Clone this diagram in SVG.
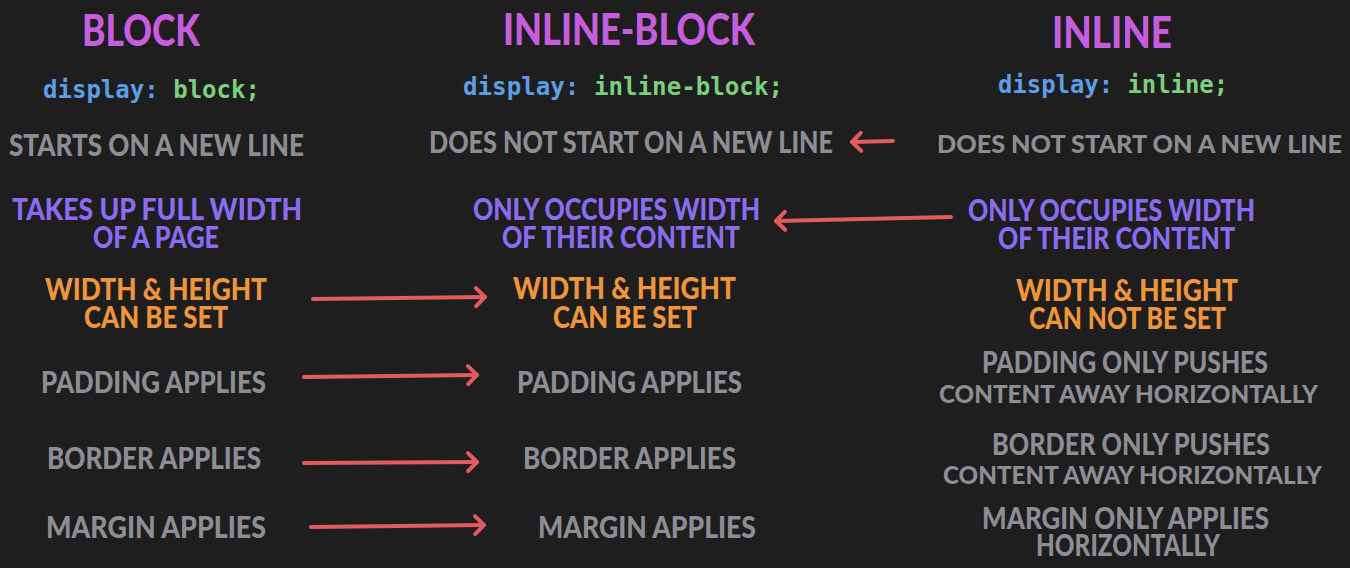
<svg xmlns="http://www.w3.org/2000/svg" width="1350" height="568" viewBox="0 0 1350 568">
<defs>
<style>
.t{font-family:Lato,"Open Sans","Liberation Sans",sans-serif;font-weight:900;font-size:30px;text-anchor:middle}
.s{font-size:25.5px}
.title{font-size:44px;fill:#c65ddf}
.g{fill:#8d8d93}
.p{fill:#8b6cf1}
.o{fill:#ef963d}
.code{font-family:"DejaVu Sans Mono","Liberation Mono",monospace;font-weight:bold;font-size:24px}
.kw{fill:#5d9fe6}
.val{fill:#7ccf7d}
.arr{stroke:#e25b5d;stroke-width:4;fill:none;stroke-linecap:round;marker-end:url(#ah)}
</style>
<marker id="ah" markerUnits="userSpaceOnUse" markerWidth="30" markerHeight="30" refX="15" refY="15" orient="auto" viewBox="0 0 30 30">
<path d="M6,6 L15,15 L6,24" fill="none" stroke="#e25b5d" stroke-width="4" stroke-linecap="round" stroke-linejoin="round"/>
</marker>
</defs>
<rect width="1350" height="568" fill="#1e1e1f"/>

<g id="col-block">
<g id="block-title"><text class="t title" x="141" y="46" textLength="118" lengthAdjust="spacingAndGlyphs">BLOCK</text></g>
<g id="block-code"><text class="code" x="43" y="98" textLength="217" lengthAdjust="spacingAndGlyphs"><tspan class="kw">display:</tspan><tspan class="val"> block;</tspan></text></g>
<g id="block-newline"><text class="t g" x="156.5" y="156" textLength="295" lengthAdjust="spacingAndGlyphs">STARTS ON A NEW LINE</text></g>
<g id="block-width"><text class="t p"><tspan x="157" y="220" textLength="290" lengthAdjust="spacingAndGlyphs">TAKES UP FULL WIDTH</tspan><tspan x="156" y="248" textLength="126" lengthAdjust="spacingAndGlyphs">OF A PAGE</tspan></text></g>
<g id="block-size"><text class="t o"><tspan x="156" y="300" textLength="222" lengthAdjust="spacingAndGlyphs">WIDTH &amp; HEIGHT</tspan><tspan x="156" y="328" textLength="144" lengthAdjust="spacingAndGlyphs">CAN BE SET</tspan></text></g>
<g id="block-padding"><text class="t g" x="153.5" y="393" textLength="225" lengthAdjust="spacingAndGlyphs">PADDING APPLIES</text></g>
<g id="block-border"><text class="t g" x="154" y="469" textLength="214" lengthAdjust="spacingAndGlyphs">BORDER APPLIES</text></g>
<g id="block-margin"><text class="t g" x="156" y="538" textLength="220" lengthAdjust="spacingAndGlyphs">MARGIN APPLIES</text></g>
</g>

<g id="col-inline-block">
<g id="ib-title"><text class="t title" x="629" y="45" textLength="252" lengthAdjust="spacingAndGlyphs">INLINE-BLOCK</text></g>
<g id="ib-code"><text class="code" x="463" y="95" textLength="320" lengthAdjust="spacingAndGlyphs"><tspan class="kw">display:</tspan><tspan class="val"> inline-block;</tspan></text></g>
<g id="ib-newline"><text class="t g" x="631" y="153" textLength="404" lengthAdjust="spacingAndGlyphs">DOES NOT START ON A NEW LINE</text></g>
<g id="ib-width"><text class="t p"><tspan x="616.5" y="220" textLength="287" lengthAdjust="spacingAndGlyphs">ONLY OCCUPIES WIDTH</tspan><tspan x="621" y="248" textLength="238" lengthAdjust="spacingAndGlyphs">OF THEIR CONTENT</tspan></text></g>
<g id="ib-size"><text class="t o"><tspan x="624.5" y="299" textLength="223" lengthAdjust="spacingAndGlyphs">WIDTH &amp; HEIGHT</tspan><tspan x="625" y="328" textLength="144" lengthAdjust="spacingAndGlyphs">CAN BE SET</tspan></text></g>
<g id="ib-padding"><text class="t g" x="629.5" y="393" textLength="225" lengthAdjust="spacingAndGlyphs">PADDING APPLIES</text></g>
<g id="ib-border"><text class="t g" x="629.5" y="469" textLength="213" lengthAdjust="spacingAndGlyphs">BORDER APPLIES</text></g>
<g id="ib-margin"><text class="t g" x="647" y="538" textLength="218" lengthAdjust="spacingAndGlyphs">MARGIN APPLIES</text></g>
</g>

<g id="col-inline">
<g id="in-title"><text class="t title" x="1112" y="48" textLength="120" lengthAdjust="spacingAndGlyphs">INLINE</text></g>
<g id="in-code"><text class="code" x="998" y="93" textLength="230" lengthAdjust="spacingAndGlyphs"><tspan class="kw">display:</tspan><tspan class="val"> inline;</tspan></text></g>
<g id="in-newline"><text class="t g s" x="1139.5" y="153" textLength="405" lengthAdjust="spacingAndGlyphs">DOES NOT START ON A NEW LINE</text></g>
<g id="in-width"><text class="t p"><tspan x="1111.5" y="221" textLength="287" lengthAdjust="spacingAndGlyphs">ONLY OCCUPIES WIDTH</tspan><tspan x="1116.5" y="249" textLength="237" lengthAdjust="spacingAndGlyphs">OF THEIR CONTENT</tspan></text></g>
<g id="in-size"><text class="t o"><tspan x="1127" y="301" textLength="222" lengthAdjust="spacingAndGlyphs">WIDTH &amp; HEIGHT</tspan><tspan x="1127.5" y="329" textLength="197" lengthAdjust="spacingAndGlyphs">CAN NOT BE SET</tspan></text></g>
<g id="in-padding"><text class="t g"><tspan x="1125" y="373" textLength="286" lengthAdjust="spacingAndGlyphs">PADDING ONLY PUSHES</tspan><tspan class="s" x="1128.5" y="403" textLength="379" lengthAdjust="spacingAndGlyphs">CONTENT AWAY HORIZONTALLY</tspan></text></g>
<g id="in-border"><text class="t g"><tspan x="1131" y="455" textLength="278" lengthAdjust="spacingAndGlyphs">BORDER ONLY PUSHES</tspan><tspan class="s" x="1132.5" y="484" textLength="379" lengthAdjust="spacingAndGlyphs">CONTENT AWAY HORIZONTALLY</tspan></text></g>
<g id="in-margin"><text class="t g"><tspan x="1125.5" y="529" textLength="287" lengthAdjust="spacingAndGlyphs">MARGIN ONLY APPLIES</tspan><tspan x="1128" y="556" textLength="184" lengthAdjust="spacingAndGlyphs">HORIZONTALLY</tspan></text></g>
</g>

<g id="connectors">
<path class="arr" d="M893,141 L852,142"/>
<path class="arr" d="M951,217 L776,221"/>
<path class="arr" d="M313,299 L485,297"/>
<path class="arr" d="M304,377 L477,375"/>
<path class="arr" d="M304,463 L477,462"/>
<path class="arr" d="M311,527 L484,525"/>
</g>
</svg>
